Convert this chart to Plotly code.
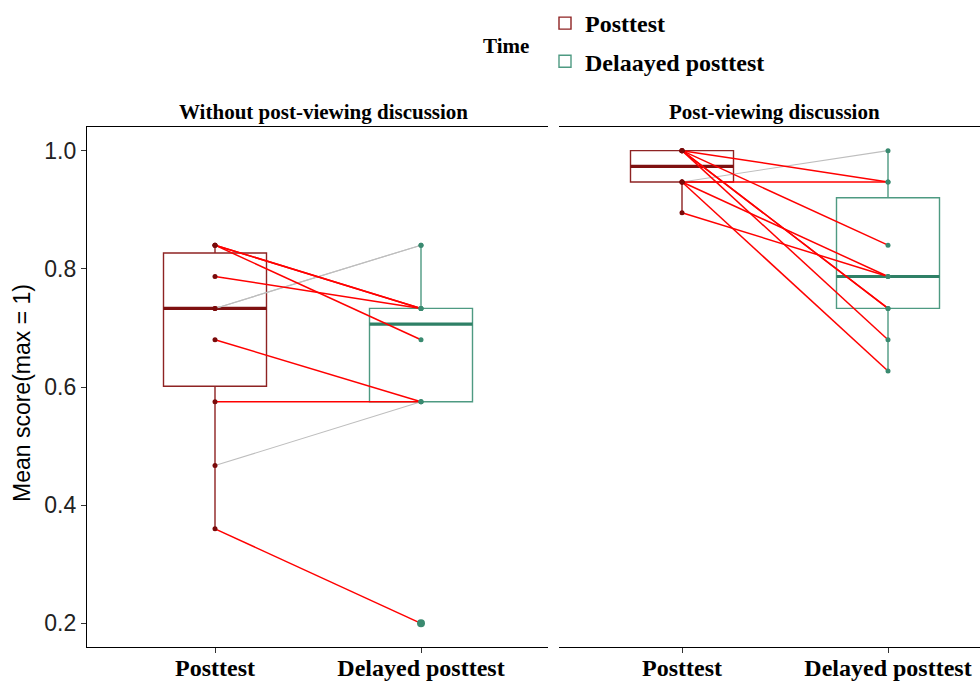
import numpy as np
import plotly.graph_objects as go

# ---------------- data ----------------
panels = ["Without post-viewing discussion", "Post-viewing discussion"]
time_labels = ["Posttest", "Delayed posttest"]
legend_names = ["Posttest", "Delaayed posttest"]

# one entry per participant (posttest -> delayed posttest)
without_post = [0.84, 0.84, 0.84, 0.787, 0.733, 0.733, 0.68, 0.575, 0.467, 0.36]
without_delayed = [0.733, 0.733, 0.68, 0.733, 0.84, 0.84, 0.575, 0.575, 0.575, 0.2]
with_post = [1.0, 1.0, 1.0, 1.0, 1.0, 0.947, 0.947, 0.947, 0.947, 0.895]
with_delayed = [0.947, 0.84, 0.733, 0.733, 0.68, 1.0, 0.947, 0.787, 0.627, 0.787]

y_ticks = [0.2, 0.4, 0.6, 0.8, 1.0]

# ---------------- styles ----------------
box_line = ["#8E2323", "#4E9A82"]
median_line = ["#7E1010", "#2F8066"]
point_col = ["#7A0A0A", "#3A8A70"]
down_col = "#FF0000"
up_col = "#BEBEBE"
BOXW = 0.5
serif = "Liberation Serif"
sans = "Liberation Sans"


def box_stats(vals):
    v = np.asarray(vals, dtype=float)
    q1, med, q3 = np.percentile(v, [25, 50, 75])
    iqr = q3 - q1
    lo_lim, hi_lim = q1 - 1.5 * iqr, q3 + 1.5 * iqr
    inside = v[(v >= lo_lim) & (v <= hi_lim)]
    out = v[(v < lo_lim) | (v > hi_lim)]
    return dict(q1=q1, med=med, q3=q3, lo=inside.min(), hi=inside.max(), out=out)


fig = go.Figure()
panel_data = [(without_post, without_delayed), (with_post, with_delayed)]

for p, (post, delayed) in enumerate(panel_data):
    xa = "x" if p == 0 else "x2"
    ya = "y" if p == 0 else "y2"
    # boxes
    for t, vals in enumerate((post, delayed)):
        s = box_stats(vals)
        pos = t + 1
        fig.add_trace(go.Box(
            x=[pos], q1=[s["q1"]], median=[s["med"]], q3=[s["q3"]],
            lowerfence=[s["lo"]], upperfence=[s["hi"]],
            width=BOXW, whiskerwidth=0, boxpoints=False,
            fillcolor="rgba(0,0,0,0)", line=dict(color=box_line[t], width=1.4),
            name=legend_names[t], legendgroup=legend_names[t],
            showlegend=(p == 0), xaxis=xa, yaxis=ya, hoverinfo="skip"))
        fig.add_trace(go.Scatter(
            x=[pos - BOXW / 2, pos + BOXW / 2], y=[s["med"], s["med"]],
            mode="lines", line=dict(color=median_line[t], width=3.2),
            showlegend=False, xaxis=xa, yaxis=ya, hoverinfo="skip"))
    # participant lines
    for colr, cond in ((up_col, lambda a, b: b > a), (down_col, lambda a, b: b <= a)):
        xs, ys = [], []
        for a, b in zip(post, delayed):
            if cond(a, b):
                xs += [1, 2, None]
                ys += [a, b, None]
        fig.add_trace(go.Scatter(
            x=xs, y=ys, mode="lines",
            line=dict(color=colr, width=1.5 if colr == down_col else 1.1),
            showlegend=False, xaxis=xa, yaxis=ya, hoverinfo="skip"))
    # points
    for t, vals in enumerate((post, delayed)):
        s = box_stats(vals)
        fig.add_trace(go.Scatter(
            x=[t + 1] * len(vals), y=vals, mode="markers",
            marker=dict(color=point_col[t], size=5),
            showlegend=False, xaxis=xa, yaxis=ya))
        if len(s["out"]):
            fig.add_trace(go.Scatter(
                x=[t + 1] * len(s["out"]), y=list(s["out"]), mode="markers",
                marker=dict(color=point_col[t], size=8),
                showlegend=False, xaxis=xa, yaxis=ya))

W, H = 980, 682
L_x0, L_x1 = 87, 548
R_x0, R_x1 = 559, 980
Y_top, Y_bot = 127, 647
unit = 206.0
posL, posR = 215.0, 682.0

common_x = dict(
    tickmode="array", tickvals=[1, 2], ticktext=time_labels,
    showline=True, linecolor="black", linewidth=1.2, mirror=True,
    ticks="outside", ticklen=5, tickcolor="#333333", tickwidth=1.2,
    ticklabelstandoff=-6,
    tickfont=dict(family=serif, size=24, color="black", weight="bold"),
    showgrid=False, zeroline=False, fixedrange=True, automargin=False,
)

fig.update_layout(
    width=W, height=H,
    margin=dict(l=0, r=0, t=0, b=0, autoexpand=False),
    paper_bgcolor="white", plot_bgcolor="white",
    xaxis=dict(domain=[L_x0 / W, L_x1 / W],
               range=[1 - (posL - L_x0) / unit, 2 + (L_x1 - (posL + unit)) / unit],
               **common_x),
    xaxis2=dict(domain=[R_x0 / W, R_x1 / W],
                range=[1 - (posR - R_x0) / unit, 2 + (R_x1 - (posR + unit)) / unit],
                **common_x),
    yaxis=dict(domain=[1 - Y_bot / H, 1 - Y_top / H], range=[0.16, 1.04],
               tickmode="array", tickvals=y_ticks,
               ticktext=[f"{v:.1f}" for v in y_ticks],
               showline=True, linecolor="black", linewidth=1.2,
               ticks="outside", ticklen=5, tickcolor="#333333", tickwidth=1.2,
               tickfont=dict(family=sans, size=23, color="#222222"),
               showgrid=False, zeroline=False, fixedrange=True, automargin=False),
    yaxis2=dict(domain=[1 - Y_bot / H, 1 - Y_top / H], range=[0.16, 1.04],
                matches="y", showticklabels=False, showline=False, ticks="",
                showgrid=False, zeroline=False, anchor="x2", automargin=False),
    legend=dict(x=545 / W, y=1 - 1 / H, xanchor="left", yanchor="top",
                font=dict(family=serif, size=24, color="black", weight="bold"),
                tracegroupgap=4, bgcolor="rgba(0,0,0,0)"),
    showlegend=True,
)


def ann(text, xpx, ypx, font, angle=0):
    return dict(text=text, x=xpx / W, y=1 - ypx / H, xref="paper", yref="paper",
                xanchor="center", yanchor="middle", showarrow=False,
                textangle=angle, font=font)


annotations = [
    ann("<b>" + panels[0] + "</b>", 323, 112, dict(family=serif, size=21, color="black")),
    ann("<b>" + panels[1] + "</b>", 774, 112, dict(family=serif, size=21, color="black")),
    ann("<b>Time</b>", 506, 46, dict(family=serif, size=21, color="black")),
    ann("Mean score(max = 1)", 22, 393, dict(family=sans, size=23, color="black"), -90),
]
fig.update_layout(annotations=annotations)

fig.write_html("out.html", config={"displayModeBar": False},
               post_script="document.body.style.margin='0';document.body.style.padding='0';")
